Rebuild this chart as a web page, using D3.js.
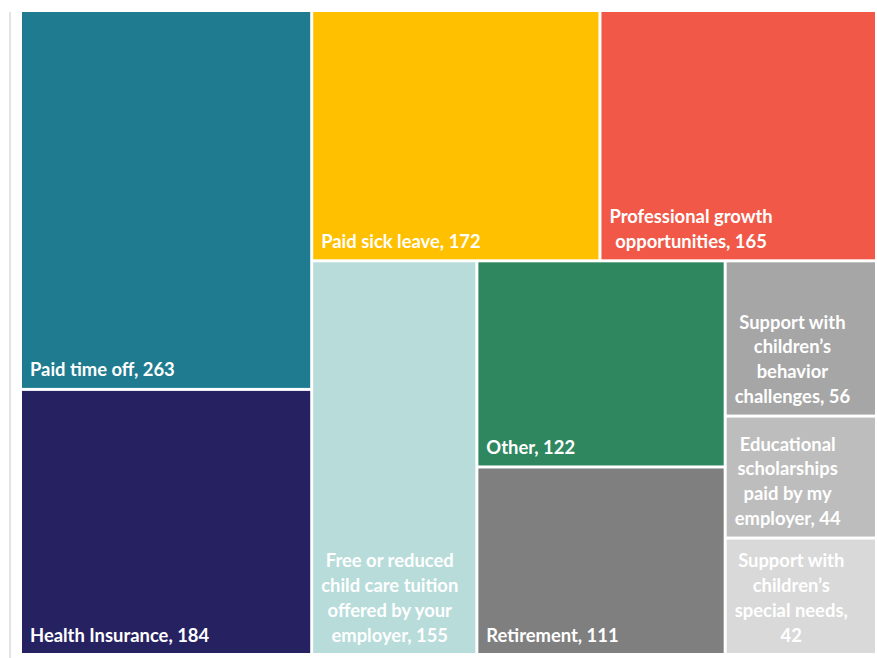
<!DOCTYPE html>
<html>
<head>
<meta charset="utf-8">
<script src="https://cdn.jsdelivr.net/npm/d3@7"></script>
<style>
  html, body { margin: 0; padding: 0; background: #ffffff; }
  svg { display: block; }
  text { font-family: Lato, "Open Sans", sans-serif; font-weight: 700; }
</style>
</head>
<body>
<svg id="chart" width="877" height="658"></svg>
<script>
// ---- data ----
const categories = [
  "Paid time off",
  "Health Insurance",
  "Paid sick leave",
  "Professional growth\nopportunities",
  "Free or reduced\nchild care tuition\noffered by your\nemployer",
  "Other",
  "Retirement",
  "Support with\nchildren\u2019s\nbehavior\nchallenges",
  "Educational\nscholarships\npaid by my\nemployer",
  "Support with\nchildren\u2019s\nspecial needs,"
];
const values = [263, 184, 172, 165, 155, 122, 111, 56, 44, 42];
const colors = ["#1f7b8f", "#262262", "#ffc000", "#f15847", "#b8dcda",
                "#2f8760", "#7f7f7f", "#a6a6a6", "#bdbdbd", "#d9d9d9"];
// strips of the tiling (indices into categories), in layout order
const strips = [[0, 1], [2, 3], [4], [5, 6], [7, 8, 9]];

// ---- layout ----
const svg = d3.select("#chart");
const X0 = 22, Y0 = 12, W = 853, H = 641;

svg.append("line")
  .attr("x1", 10).attr("x2", 10).attr("y1", 12).attr("y2", 658)
  .attr("stroke", "#e4e4e4").attr("stroke-width", 2);

const rootData = {
  name: "root",
  children: strips.map((s, i) => ({
    name: "strip" + i,
    children: s.map(j => ({ name: categories[j], value: values[j], color: colors[j] }))
  }))
};

function stripTile(parent, x0, y0, x1, y1) {
  if (parent.depth === 0) {
    let remaining = parent.value;
    for (const strip of parent.children) {
      const w = x1 - x0, h = y1 - y0;
      const k = strip.value / remaining;
      if (w >= h) {
        strip.x0 = x0; strip.x1 = x0 + w * k; strip.y0 = y0; strip.y1 = y1;
        x0 = strip.x1;
      } else {
        strip.y0 = y0; strip.y1 = y0 + h * k; strip.x0 = x0; strip.x1 = x1;
        y0 = strip.y1;
      }
      remaining -= strip.value;
    }
  } else {
    const tall = (y1 - y0) > (x1 - x0);
    (tall ? d3.treemapSlice : d3.treemapDice)(parent, x0, y0, x1, y1);
  }
}

const root = d3.hierarchy(rootData).sum(d => d.value || 0);
d3.treemap().tile(stripTile).size([W, H]).paddingInner(3)(root);

const g = svg.append("g").attr("transform", `translate(${X0},${Y0})`);

const leaves = g.selectAll("g.leaf").data(root.leaves()).join("g").attr("class", "leaf");

leaves.append("rect")
  .attr("x", d => d.x0).attr("y", d => d.y0)
  .attr("width", d => d.x1 - d.x0).attr("height", d => d.y1 - d.y0)
  .attr("fill", d => d.data.color);

const FS = 18.4, LH = 24.8;
leaves.each(function(d) {
  const sel = d3.select(this);
  let label = d.data.name;
  if (label.endsWith(",")) label += "\n" + d.value; else label += ", " + d.value;
  const lines = label.split("\n");
  const t = sel.append("text").attr("font-size", FS).attr("fill", "#ffffff");
  const spans = lines.map(l => t.append("tspan").text(l));
  const widths = spans.map(s => s.node().getComputedTextLength());
  const maxW = d3.max(widths);
  const left = d.x0 + 8;
  const lastBase = d.y1 - 11.5;
  spans.forEach((s, i) => {
    s.attr("x", left + maxW / 2)
     .attr("y", lastBase - (lines.length - 1 - i) * LH)
     .attr("text-anchor", "middle");
  });
});
</script>
</body>
</html>
